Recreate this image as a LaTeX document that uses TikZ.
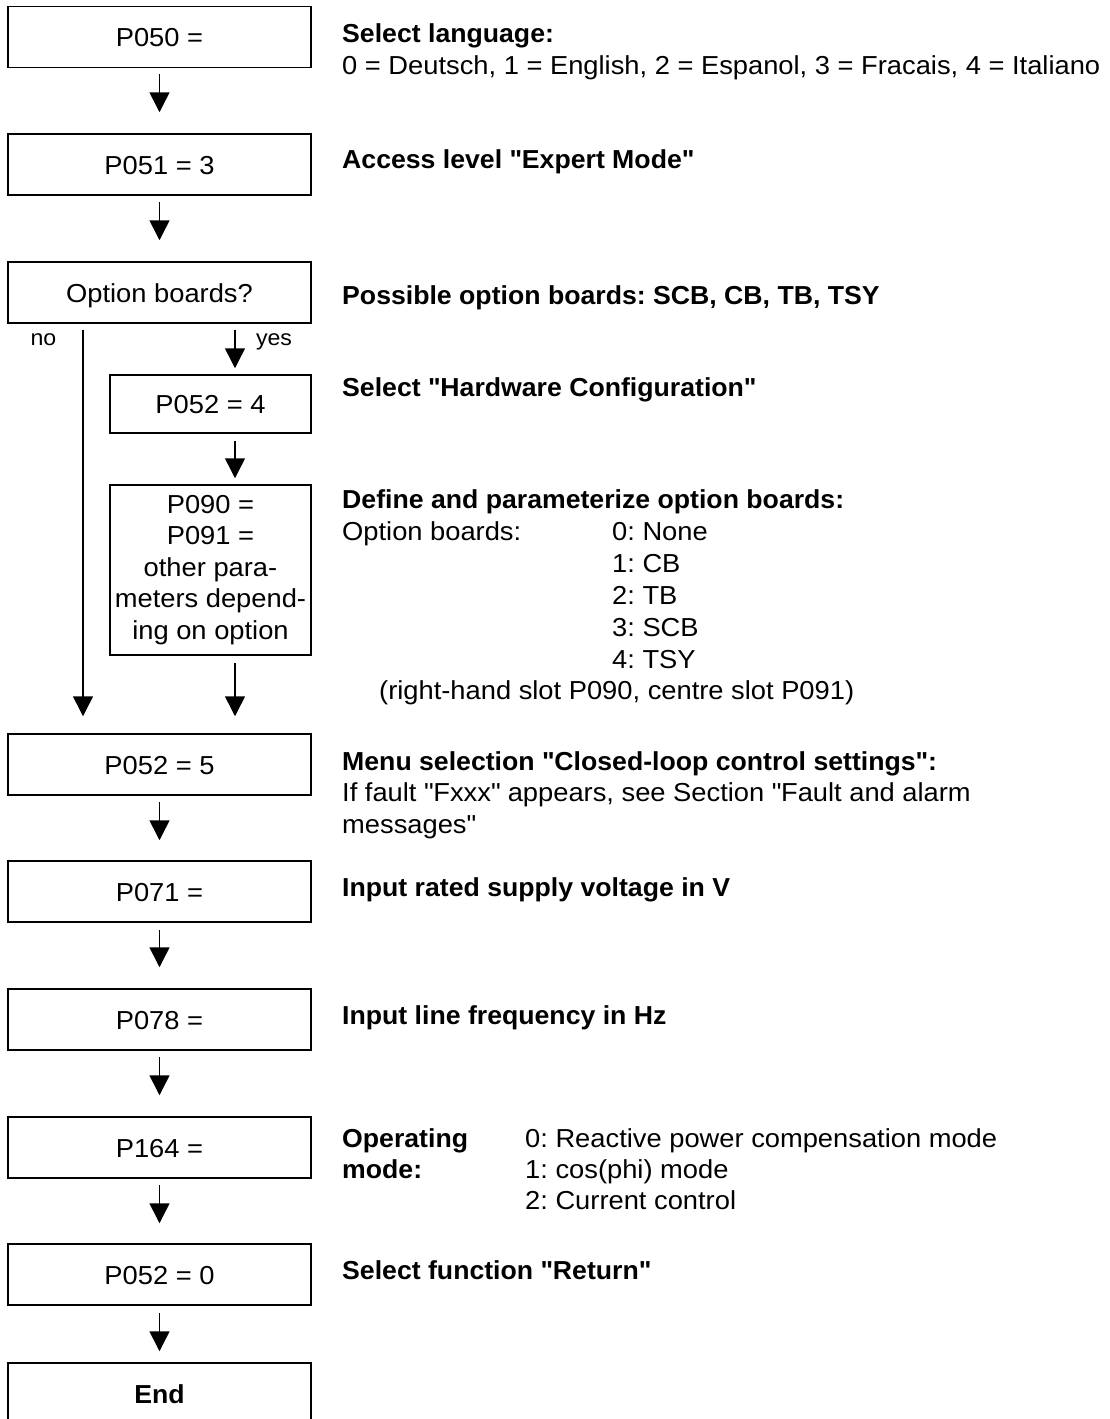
\documentclass[tikz,border=0pt]{standalone}
\usepackage{fontspec}
\setmainfont{Liberation Sans}[FakeStretch=1.05]
\newfontfamily\boldfam{Liberation Sans Bold}[FakeStretch=1.025]
\usetikzlibrary{arrows.meta}
\newcommand{\qd}{\textquotedbl}
\begin{document}
\frenchspacing
\begin{tikzpicture}[x=1pt,y=-1pt,
  boxbase/.style={draw,line width=1.5pt,minimum height=61pt,inner sep=0pt,font=\fontsize{26}{31.6}\selectfont},
  box/.style={boxbase,text height=19pt,text depth=0pt},
  mainbox/.style={box,minimum width=303pt},
  subbox/.style={box,minimum width=201pt},
  arr/.style={line width=1.5pt,-{Triangle[width=20pt,length=20pt]}},
  txt/.style={anchor=base west,inner sep=0pt,font=\fontsize{26}{31.6}\selectfont},
  btxt/.style={anchor=base west,inner sep=0pt,font=\fontsize{26}{31.6}\selectfont\boldfam},
  lbl/.style={anchor=base,inner sep=0pt,font=\fontsize{22}{26}\selectfont}]
\useasboundingbox (0,0) rectangle (1110,1419);
\clip (0,0) rectangle (1110,1419);

% boxes
\node[mainbox] (b1) at (159.5,37) {P050 =};
\node[mainbox] (b2) at (159.5,164.5) {P051 = 3};
\node[mainbox] (b3) at (159.5,292.5) {Option boards?};
\node[subbox,minimum height=58pt] (b4) at (210.5,404) {P052 = 4};
\node[boxbase,minimum width=201pt,minimum height=170pt,align=center] (b5) at (210.5,570)
  {P090 =\\P091 =\\other para-\\meters depend-\\ing on option};
\node[mainbox] (b6) at (159.5,764.5) {P052 = 5};
\node[mainbox] (b7) at (159.5,891.5) {P071 =};
\node[mainbox] (b8) at (159.5,1019.5) {P078 =};
\node[mainbox] (b9) at (159.5,1147.5) {P164 =};
\node[mainbox] (b10) at (159.5,1274.5) {P052 = 0};
\node[mainbox,font=\fontsize{26}{31.6}\selectfont\boldfam] (b11) at (159.5,1393.5) {End};

% columns
\coordinate (ycol) at (235,0);
\coordinate (ncol) at (83,0);

% connectors
\draw[arr,shorten <=6pt,shorten >=21pt] (b1) -- (b2);
\draw[arr,shorten <=6pt,shorten >=21pt] (b2) -- (b3);
\draw[arr,shorten <=6pt,shorten >=6pt] (b3.south -| ycol) -- (b4.north -| ycol);
\draw[arr,shorten <=7pt,shorten >=6pt] (b4.south -| ycol) -- (b5.north -| ycol);
\draw[arr,shorten <=7pt,shorten >=17pt] (b5.south -| ycol) -- (b6.north -| ycol);
\draw[arr,shorten <=6pt,shorten >=17pt] (b3.south -| ncol) -- (b6.north -| ncol);
\draw[arr,shorten <=6pt,shorten >=20pt] (b6) -- (b7);
\draw[arr,shorten <=7pt,shorten >=21pt] (b7) -- (b8);
\draw[arr,shorten <=6pt,shorten >=21pt] (b8) -- (b9);
\draw[arr,shorten <=6pt,shorten >=20pt] (b9) -- (b10);
\draw[arr,shorten <=7pt,shorten >=11pt] (b10) -- (b11);

% branch labels
\node[lbl] (no) at (43.5,345) {no};
\node[lbl] (yes) at (274,345) {yes};

% descriptions
\node[btxt] (t1) at (342,42) {Select language:};
\node[txt] (t1b) at (342,74) {0 = Deutsch, 1 = English, 2 = Espanol, 3 = Fracais, 4 = Italiano};
\node[btxt] (t2) at (342,168) {Access level \qd Expert Mode\qd};
\node[btxt] (t3) at (342,304) {Possible option boards: SCB, CB, TB, TSY};
\node[btxt] (t4) at (342,396) {Select \qd Hardware Configuration\qd};
\node[btxt] (t5) at (342,508) {Define and parameterize option boards:};
\node[txt] (t5a) at (342,540) {Option boards:};
\node[txt] (o0) at (612,540) {0: None};
\node[txt] (o1) at (612,572) {1: CB};
\node[txt] (o2) at (612,604) {2: TB};
\node[txt] (o3) at (612,636) {3: SCB};
\node[txt] (o4) at (612,668) {4: TSY};
\node[txt] (t5b) at (379,699) {(right-hand slot P090, centre slot P091)};
\node[btxt] (t6) at (342,770) {Menu selection \qd Closed-loop control settings\qd:};
\node[txt] (t6a) at (342,801) {If fault \qd Fxxx\qd\ appears, see Section \qd Fault and alarm};
\node[txt] (t6b) at (342,833) {messages\qd};
\node[btxt] (t7) at (342,896) {Input rated supply voltage in V};
\node[btxt] (t8) at (342,1024) {Input line frequency in Hz};
\node[btxt] (t9) at (342,1147) {Operating};
\node[btxt] (t9b) at (342,1178) {mode:};
\node[txt] (m0) at (525,1147) {0: Reactive power compensation mode};
\node[txt] (m1) at (525,1178) {1: cos(phi) mode};
\node[txt] (m2) at (525,1209) {2: Current control};
\node[btxt] (t10) at (342,1279) {Select function \qd Return\qd};
\end{tikzpicture}
\end{document}
